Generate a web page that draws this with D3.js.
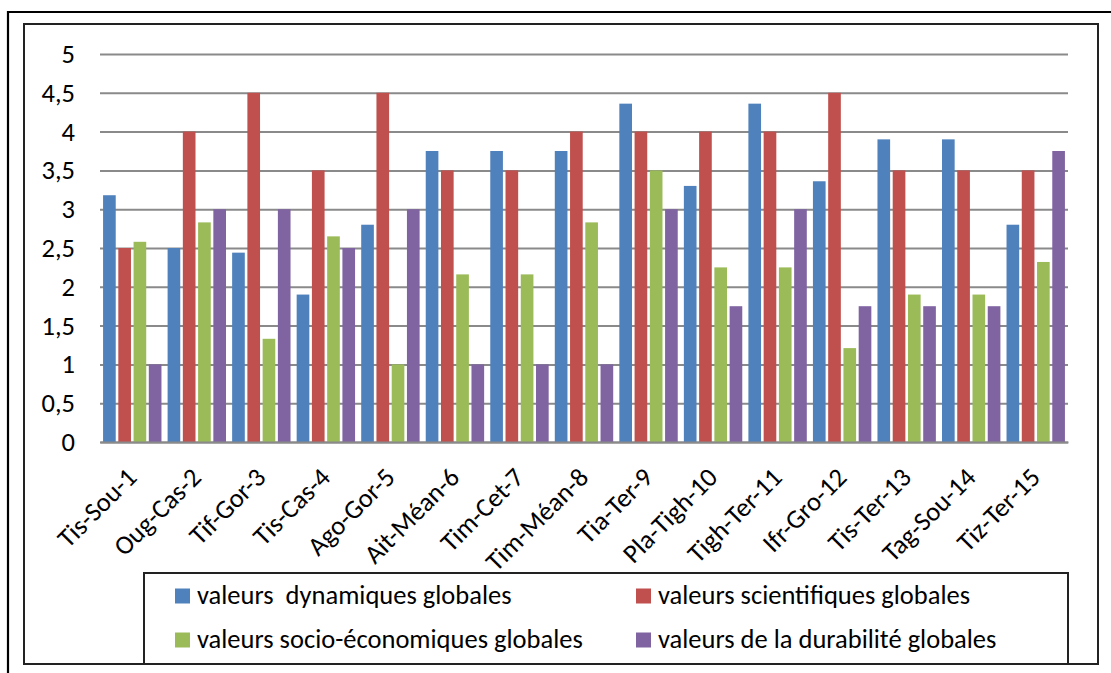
<!DOCTYPE html>
<html><head><meta charset="utf-8">
<script src="https://cdn.jsdelivr.net/npm/d3@7/dist/d3.min.js"></script>
<style>
html,body{margin:0;padding:0;background:#fff;}
svg{display:block;}
text{font-family:Carlito, Calibri, Lato, "Open Sans", sans-serif;fill:#000;}
</style></head>
<body><svg id="chart" width="1111" height="673"></svg>
<script>
const categories = ["Tis-Sou-1","Oug-Cas-2","Tif-Gor-3","Tis-Cas-4","Ago-Gor-5","Ait-Méan-6","Tim-Cet-7","Tim-Méan-8","Tia-Ter-9","Pla-Tigh-10","Tigh-Ter-11","Ifr-Gro-12","Tis-Ter-13","Tag-Sou-14","Tiz-Ter-15"];
const seriesNames = ["valeurs  dynamiques globales","valeurs scientifiques globales","valeurs socio-économiques globales","valeurs de la durabilité globales"];
const seriesColors = ["#4F81BD","#C0504D","#9BBB59","#8064A2"];
const dynamiques = [3.18,2.5,2.44,1.9,2.8,3.75,3.75,3.75,4.36,3.3,4.36,3.36,3.9,3.9,2.8];
const scientifiques = [2.5,4,4.5,3.5,4.5,3.5,3.5,4,4,4,4,4.5,3.5,3.5,3.5];
const socioEco = [2.58,2.83,1.33,2.65,1,2.16,2.16,2.83,3.5,2.25,2.25,1.21,1.9,1.9,2.32];
const durabilite = [1,3,3,2.5,3,1,1,1,3,1.75,3,1.75,1.75,1.75,3.75];
const yTicks = [0,0.5,1,1.5,2,2.5,3,3.5,4,4.5,5];
const yTickLabels = ["0","0,5","1","1,5","2","2,5","3","3,5","4","4,5","5"];

const seriesValues = [dynamiques, scientifiques, socioEco, durabilite];
const svg = d3.select("#chart");
const FS = 26.5;

// outer frame
svg.append("path").attr("d","M8,673 L8,12 L1111,12").attr("fill","none").attr("stroke","#000").attr("stroke-width",2.2);
// inner frame
svg.append("rect").attr("x",24).attr("y",24).attr("width",1074).attr("height",640)
  .attr("fill","none").attr("stroke","#222").attr("stroke-width",2);

const plotL = 100, plotR = 1068, plotT = 54, plotB = 442;
const y = d3.scaleLinear().domain([0,5]).range([plotB, plotT]);
const x0 = d3.scaleBand().domain(categories).range([plotL, plotR]).paddingInner(0.095).paddingOuter(0.0475);
const x1 = d3.scaleBand().domain(d3.range(4)).range([0, x0.bandwidth()]).paddingInner(0.17).paddingOuter(0);

// gridlines
const yAxis = d3.axisLeft(y).tickValues(yTicks).tickSize(-(plotR-plotL)).tickFormat((d,i)=>yTickLabels[i]);
const gy = svg.append("g").attr("transform",`translate(${plotL},0)`).call(yAxis);
gy.select(".domain").remove();
gy.selectAll(".tick line").attr("stroke","#8a8a8a").attr("stroke-width",2);
gy.selectAll(".tick text").attr("x",-25).attr("font-size",FS).attr("dy","0.32em");

// bars
const groups = svg.append("g").selectAll("g").data(categories).join("g")
  .attr("transform",d=>`translate(${x0(d)},0)`);
groups.selectAll("rect").data((d,ci)=>seriesValues.map((s,si)=>({si, v:s[ci]}))).join("rect")
  .attr("x",d=>x1(d.si)).attr("width",x1.bandwidth())
  .attr("y",d=>y(d.v)).attr("height",d=>y(0)-y(d.v))
  .attr("fill",d=>seriesColors[d.si]);

// x axis
const xAxis = d3.axisBottom(x0).tickSize(0).tickSizeOuter(0);
const gx = svg.append("g").attr("transform",`translate(0,${plotB})`).call(xAxis);
gx.select(".domain").attr("stroke","#8a8a8a").attr("stroke-width",2);
gx.selectAll(".tick text").attr("font-size",FS).attr("text-anchor","end")
  .attr("dy",0).attr("y",0)
  .attr("transform","translate(6,37) rotate(-45)");

// legend
svg.append("rect").attr("x",144).attr("y",573).attr("width",924).attr("height",91)
  .attr("fill","#fff").attr("stroke","#222").attr("stroke-width",2);
const legPos = [[175,596],[636,596],[175,640],[636,640]];
const leg = svg.append("g").selectAll("g").data(seriesNames).join("g")
  .attr("transform",(d,i)=>`translate(${legPos[i][0]},${legPos[i][1]})`);
leg.append("rect").attr("x",0).attr("y",-7.5).attr("width",15).attr("height",15).attr("fill",(d,i)=>seriesColors[i]);
leg.append("text").attr("x",22).attr("y",7.5).attr("font-size",FS).style("white-space","pre").text(d=>d);
</script></body></html>
